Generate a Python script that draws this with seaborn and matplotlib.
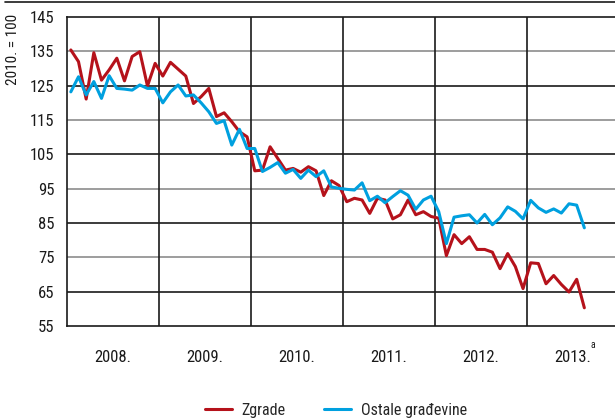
import numpy as np
import pandas as pd
import matplotlib.pyplot as plt
import seaborn as sns
from matplotlib.lines import Line2D

# monthly indices, 2010. = 100, from 2008-01 to 2013-08
zgrade = [135.4, 132.0, 121.1, 134.6, 126.6, 129.6, 133.0, 126.4, 133.5, 134.9, 124.9, 131.5,
          127.8, 131.8, 129.8, 127.8, 119.8, 121.8, 124.2, 116.0, 117.1, 114.5, 111.6, 110.1,
          100.2, 100.4, 107.2, 103.8, 100.4, 100.9, 99.8, 101.4, 100.2, 93.0, 97.3, 95.9,
          91.2, 92.2, 91.7, 87.8, 92.2, 91.7, 86.2, 87.4, 91.7, 87.4, 88.3, 86.9,
          86.4, 75.5, 81.6, 79.0, 81.0, 77.3, 77.3, 76.5, 71.7, 76.1, 72.3, 65.9,
          73.4, 73.2, 67.3, 69.7, 67.1, 64.9, 68.6, 60.3]
ostale = [123.2, 127.6, 122.3, 126.2, 121.3, 127.9, 124.2, 124.0, 123.7, 125.2, 124.2, 124.2,
          120.0, 123.2, 125.2, 122.0, 122.3, 120.0, 117.4, 114.0, 114.8, 107.7, 112.3, 106.7,
          106.7, 100.0, 101.2, 102.6, 99.5, 100.6, 98.0, 100.4, 98.5, 100.2, 95.5, 95.1,
          94.8, 94.6, 96.7, 91.5, 92.8, 90.9, 92.7, 94.4, 93.1, 89.0, 91.7, 92.8,
          88.3, 79.0, 86.7, 87.1, 87.4, 85.0, 87.5, 84.5, 86.5, 89.7, 88.4, 86.2,
          91.6, 89.4, 88.1, 89.1, 87.9, 90.6, 90.2, 83.6]
years = ['2008.', '2009.', '2010.', '2011.', '2012.', '2013.']
series_names = ['Zgrade', 'Ostale građevine']
colors = ['#B5121B', '#00A0DF']

months = np.arange(len(zgrade)) + 0.5
df = pd.DataFrame({
    'mjesec': np.concatenate([months, months]),
    'indeks': zgrade + ostale,
    'serija': [series_names[0]] * len(zgrade) + [series_names[1]] * len(ostale),
})

sns.set_style('white')
plt.rcParams['font.family'] = ['Roboto Condensed', 'Archivo Narrow', 'DejaVu Sans']

fig = plt.figure(figsize=(6.15, 4.18), dpi=100)
ax = fig.add_axes([67 / 615, 1 - 326 / 418, 548 / 615, 309 / 418])

# grid lines, alternating dark / grey
for v in range(65, 145, 10):
    c = '#1a1a1a' if (v - 65) % 20 == 0 else '#8c8c8c'
    ax.axhline(v, color=c, lw=1.2, zorder=1)
for k in range(1, len(years)):
    ax.axvline(12 * k, color='#1a1a1a', lw=1.2, zorder=1)

sns.lineplot(data=df, x='mjesec', y='indeks', hue='serija', palette=colors,
             linewidth=2.2, ax=ax, legend=False, zorder=3)

ax.set_xlim(0, 71.5)
ax.set_ylim(55, 145)
ax.set_yticks(range(55, 146, 10))
ax.set_xticks([12 * k + 6 for k in range(len(years))])
ax.set_xticklabels(years)
ax.tick_params(axis='both', length=0, labelsize=12, colors='#1a1a1a')
ax.tick_params(axis='x', pad=17)
ax.tick_params(axis='y', pad=9)
ax.set_xlabel('')
ax.set_ylabel('')

for s in ['top', 'bottom', 'left']:
    ax.spines[s].set_color('#1a1a1a')
    ax.spines[s].set_linewidth(1.2)
ax.spines['right'].set_visible(False)

# superscript note on last year
ax.text(68.35, -0.062, 'a', transform=ax.get_xaxis_transform(),
        fontsize=7, color='#1a1a1a', ha='left', va='center')

fig.text(13 / 615, 1 - 49 / 418, '2010. = 100', rotation=90, ha='center', va='center',
         fontsize=11, color='#1a1a1a')

fig.add_artist(Line2D([5 / 615, 1], [1 - 1.5 / 418, 1 - 1.5 / 418], color='#1a1a1a', lw=1.2,
                      transform=fig.transFigure))

handles = [Line2D([], [], color=c, lw=2.2) for c in colors]
fig.legend(handles, series_names, loc='center', bbox_to_anchor=(336 / 615, 1 - 410 / 418),
           ncol=2, frameon=False, fontsize=11.5, handlelength=1.7, columnspacing=2.4,
           handletextpad=0.6)

fig.savefig('out.png', dpi=100)
